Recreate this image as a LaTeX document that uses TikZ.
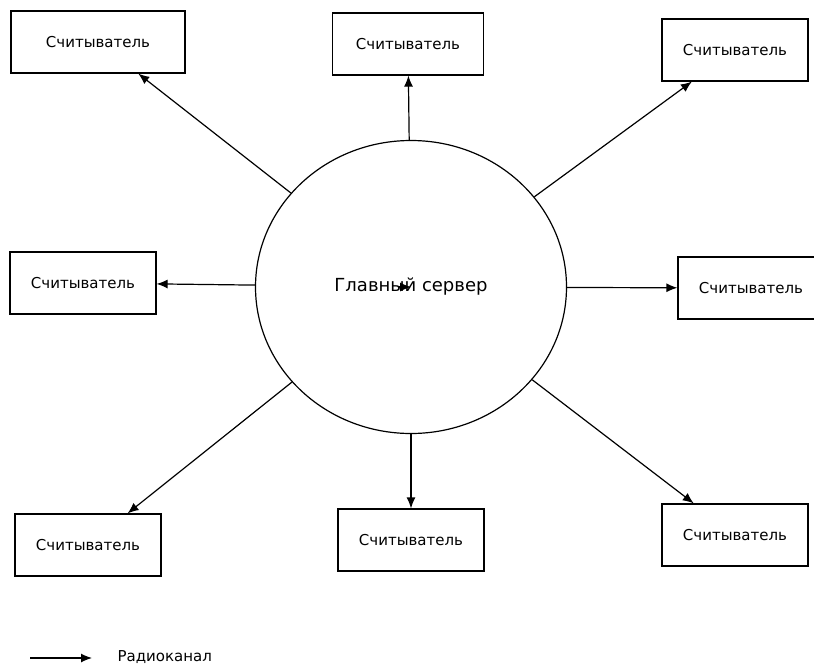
\documentclass[tikz,border=0pt]{standalone}
\usepackage{fontspec}
\setmainfont{DejaVu Sans}
\usetikzlibrary{arrows.meta,shapes.geometric}
\begin{document}
\begin{tikzpicture}[
    x=1pt, y=-1pt,
    line width=1.2pt,
    reader/.style={rectangle, draw, minimum width=146pt, minimum height=62pt,
        font=\fontsize{15}{18}\selectfont},
    server/.style={ellipse, draw, minimum width=311pt, minimum height=293pt,
        font=\fontsize{18}{21}\selectfont},
    radio/.style={-{Latex[length=11pt,width=9pt]}}
]
\useasboundingbox (0,0) rectangle (814,664);
\node[server] (srv) at (411,287) {Главный сервер};
\node[reader, minimum width=174pt] (r1) at (98,42) {Считыватель};
\node[reader, minimum width=151pt] (r2) at (408,44) {Считыватель};
\node[reader] (r3) at (735,50) {Считыватель};
\node[reader] (r4) at (83,283) {Считыватель};
\node[reader] (r5) at (751,288) {Считыватель};
\node[reader] (r6) at (88,545) {Считыватель};
\node[reader] (r7) at (411,540) {Считыватель};
\node[reader] (r8) at (735,535) {Считыватель};
\foreach \r in {r1,r2,r3,r4,r5,r6,r7,r8}
    \draw[radio] (srv) -- (\r);
\coordinate (stub) at (399,287);
\draw[radio] (stub) -- (srv.center);
% legend
\coordinate (lg1) at (30,658);
\coordinate (lg2) at (92,658);
\draw[radio] (lg1) -- (lg2);
\node[anchor=west, inner sep=0pt, font=\fontsize{15}{18}\selectfont] (lgtext) at (117,657) {Радиоканал};
\end{tikzpicture}
\end{document}
